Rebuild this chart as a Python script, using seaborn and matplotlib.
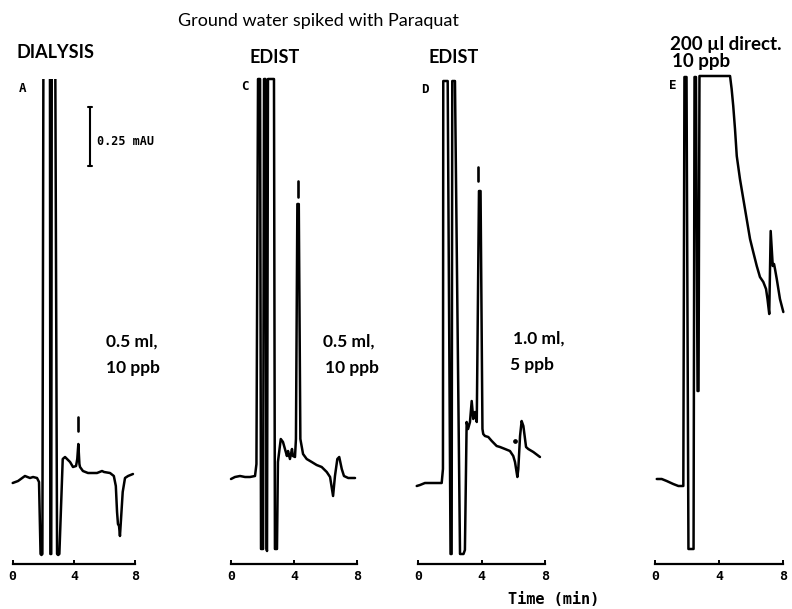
import matplotlib
matplotlib.use("Agg")
import matplotlib.pyplot as plt
import pandas as pd
import seaborn as sns

sns.set_theme(style="ticks")
plt.rcParams["font.family"] = ["Lato", "DejaVu Sans"]

# ---------------- data (time in min, signal in chart units; 0.59 units = 0.25 mAU)
A_t = [0.00, 0.35, 0.80, 1.13, 1.33, 1.59, 1.72, 1.82, 1.88, 1.94, 2.02, 2.43, 2.46, 2.52, 2.56,
       2.76, 2.90, 2.97, 3.05, 3.27, 3.42, 3.75, 3.94, 4.14, 4.22, 4.29, 4.36, 4.40, 4.59, 4.92,
       5.51, 5.84, 5.97, 6.36, 6.61, 6.74, 6.82, 6.88, 6.95, 7.01, 7.08, 7.19, 7.34, 7.54, 7.86]
A_y = [0.81, 0.83, 0.88, 0.86, 0.87, 0.86, 0.82, 0.10, 0.09, 0.10, 6.00, 6.00, 0.10, 0.10, 6.00,
       6.00, 0.10, 0.09, 0.10, 1.05, 1.07, 1.02, 0.97, 0.98, 1.05, 1.20, 1.00, 0.97, 0.93, 0.91,
       0.91, 0.93, 0.92, 0.91, 0.88, 0.78, 0.52, 0.40, 0.38, 0.28, 0.45, 0.72, 0.86, 0.88, 0.90]

C_t = [0.00, 0.25, 0.57, 0.89, 1.20, 1.52, 1.61, 1.71, 1.84, 1.90, 2.03, 2.09, 2.18, 2.25, 2.28,
       2.34, 2.72, 2.78, 2.91, 2.97, 3.15, 3.29, 3.54, 3.61, 3.73, 3.86, 3.92, 4.05, 4.11, 4.20,
       4.29, 4.39, 4.56, 4.79, 5.11, 5.42, 5.74, 6.06, 6.27, 6.46, 6.58, 6.73, 6.85, 7.01, 7.15,
       7.42, 7.85]
C_y = [0.85, 0.87, 0.88, 0.87, 0.87, 0.88, 1.00, 4.85, 4.85, 0.15, 0.15, 4.85, 4.85, 0.15, 0.13,
       4.85, 4.85, 0.15, 0.15, 1.02, 1.25, 1.22, 1.08, 1.13, 1.05, 1.15, 1.08, 1.07, 1.25, 3.60,
       3.60, 1.25, 1.10, 1.05, 1.02, 0.99, 0.97, 0.92, 0.87, 0.68, 0.88, 1.05, 1.07, 0.95, 0.88,
       0.86, 0.86]

D_t = [-0.10, 0.11, 0.42, 0.95, 1.48, 1.56, 1.58, 1.86, 2.04, 2.11, 2.15, 2.32, 2.64, 2.86, 2.95,
       3.06, 3.15, 3.27, 3.38, 3.48, 3.59, 3.70, 3.84, 3.94, 4.06, 4.11, 4.22, 4.43, 4.65, 4.96,
       5.17, 5.49, 5.80, 6.01, 6.12, 6.27, 6.33, 6.44, 6.54, 6.65, 6.82, 6.96, 7.28, 7.70]
D_y = [0.78, 0.79, 0.81, 0.81, 0.81, 0.95, 4.83, 4.83, 0.10, 0.10, 4.83, 4.83, 0.10, 0.10, 0.14,
       1.42, 1.35, 1.42, 1.63, 1.45, 1.52, 1.42, 3.73, 3.73, 1.35, 1.30, 1.28, 1.27, 1.23, 1.18,
       1.17, 1.15, 1.13, 1.08, 1.02, 0.87, 0.95, 1.28, 1.43, 1.38, 1.17, 1.15, 1.12, 1.07]

E_t = [0.11, 0.42, 0.73, 1.14, 1.46, 1.77, 1.84, 1.97, 2.09, 2.41, 2.47, 2.56, 2.66, 2.72, 2.78,
       4.69, 4.79, 4.89, 5.00, 5.11, 5.31, 5.52, 5.73, 5.94, 6.14, 6.36, 6.56, 6.77, 6.94, 7.03,
       7.14, 7.23, 7.36, 7.44, 7.50, 7.61, 7.81, 8.02]
E_y = [0.85, 0.85, 0.83, 0.80, 0.78, 0.78, 4.87, 4.87, 0.15, 0.15, 4.87, 4.87, 1.73, 1.73, 4.88,
       4.88, 4.75, 4.58, 4.35, 4.08, 3.85, 3.65, 3.45, 3.25, 3.12, 2.98, 2.87, 2.82, 2.75, 2.65,
       2.50, 3.33, 2.98, 3.00, 2.95, 2.85, 2.65, 2.52]

TICKS = [0, 4, 8]
TICK_LABELS = ["0", "4", "8"]

# peak markers (time, lower, upper)
PEAK_MARKS = {"A": (4.27, 1.33, 1.47), "C": (4.24, 3.67, 3.83), "D": (3.78, 3.83, 3.97)}

W, H = 792, 609
fig = plt.figure(figsize=(W / 100, H / 100), dpi=100)
fig.patch.set_facecolor("white")

panels = [
    dict(key="A", t=A_t, y=A_y, x0=12.7, s=15.3, top=4.85),
    dict(key="C", t=C_t, y=C_y, x0=231.0, s=15.8, top=4.92),
    dict(key="D", t=D_t, y=D_y, x0=418.3, s=15.8, top=4.92),
    dict(key="E", t=E_t, y=E_y, x0=655.0, s=16.0, top=4.92),
]

axes = {}
for p in panels:
    left = p["x0"] - 0.3 * p["s"]
    width = 8.6 * p["s"]
    bottom_px = 564
    height = p["top"] * 100
    ax = fig.add_axes([left / W, (H - bottom_px) / H, width / W, height / H])
    ax.set_facecolor("none")
    df = pd.DataFrame({"t": p["t"], "y": p["y"]})
    sns.lineplot(data=df, x="t", y="y", sort=False, estimator=None, color="black",
                 lw=1.8, ax=ax, solid_capstyle="round", solid_joinstyle="round")
    ax.set_xlim(-0.3, 8.3)
    ax.set_ylim(0, p["top"])
    for side in ["left", "right", "top"]:
        ax.spines[side].set_visible(False)
    ax.spines["bottom"].set_bounds(0, 8)
    ax.spines["bottom"].set_linewidth(1.6)
    ax.spines["bottom"].set_color("black")
    ax.set_yticks([])
    ax.set_xticks(TICKS)
    ax.set_xticklabels(TICK_LABELS, fontfamily="DejaVu Sans Mono", fontweight="bold",
                       fontsize=9.5, color="black")
    ax.tick_params(axis="x", direction="in", length=3, width=1.4, pad=4, colors="black")
    ax.set_xlabel("")
    ax.set_ylabel("")
    if p["key"] in PEAK_MARKS:
        mt, m0, m1 = PEAK_MARKS[p["key"]]
        ax.plot([mt, mt], [m0, m1], color="black", lw=1.9, solid_capstyle="round")
    axes[p["key"]] = ax

# scale bar in panel A: 0.25 mAU = 0.59 chart units
axA = axes["A"]
sb_t, sb_y0, sb_len = 5.05, 3.98, 0.59
axA.plot([sb_t, sb_t], [sb_y0, sb_y0 + sb_len], color="black", lw=1.5)
axA.plot([sb_t - 0.12, sb_t + 0.12], [sb_y0, sb_y0], color="black", lw=1.5)
axA.plot([sb_t - 0.12, sb_t + 0.12], [sb_y0 + sb_len, sb_y0 + sb_len], color="black", lw=1.5)

# stray dot in D
axes["D"].plot([6.11], [1.23], "o", color="black", ms=2.4)


def ftext(x, y, s, **kw):
    fig.text(x / W, 1 - y / H, s, va="baseline", color="black", **kw)


mono = dict(fontfamily="DejaVu Sans Mono", fontweight="bold")

ftext(318, 26, "Ground water spiked with Paraquat", ha="center", fontsize=13)
ftext(17, 58, "DIALYSIS", fontsize=13, fontweight="bold")
ftext(250, 63, "EDIST", fontsize=13, fontweight="bold")
ftext(428, 63, "EDIST", fontsize=13, fontweight="bold")
ftext(670, 50, "200 µl direct.", fontsize=13.5, fontweight="bold")
ftext(672, 67, "10 ppb", fontsize=13.5, fontweight="bold")

ftext(19, 92, "A", fontsize=9, **mono)
ftext(241, 90, "C", fontsize=9, **mono)
ftext(421, 93, "D", fontsize=9, **mono)
ftext(669, 89, "E", fontsize=9, **mono)

ftext(97, 145, "0.25 mAU", fontsize=8.5, **mono)

ftext(106, 347, "0.5 ml,", fontsize=12.5, fontweight="bold")
ftext(106, 373, "10 ppb", fontsize=12.5, fontweight="bold")
ftext(323, 347, "0.5 ml,", fontsize=12.5, fontweight="bold")
ftext(325, 373, "10 ppb", fontsize=12.5, fontweight="bold")
ftext(513, 344, "1.0 ml,", fontsize=12.5, fontweight="bold")
ftext(510, 370, "5 ppb", fontsize=12.5, fontweight="bold")

ftext(508, 604, "Time (min)", fontsize=11, **mono)

fig.savefig("out.png", dpi=100, facecolor="white")
